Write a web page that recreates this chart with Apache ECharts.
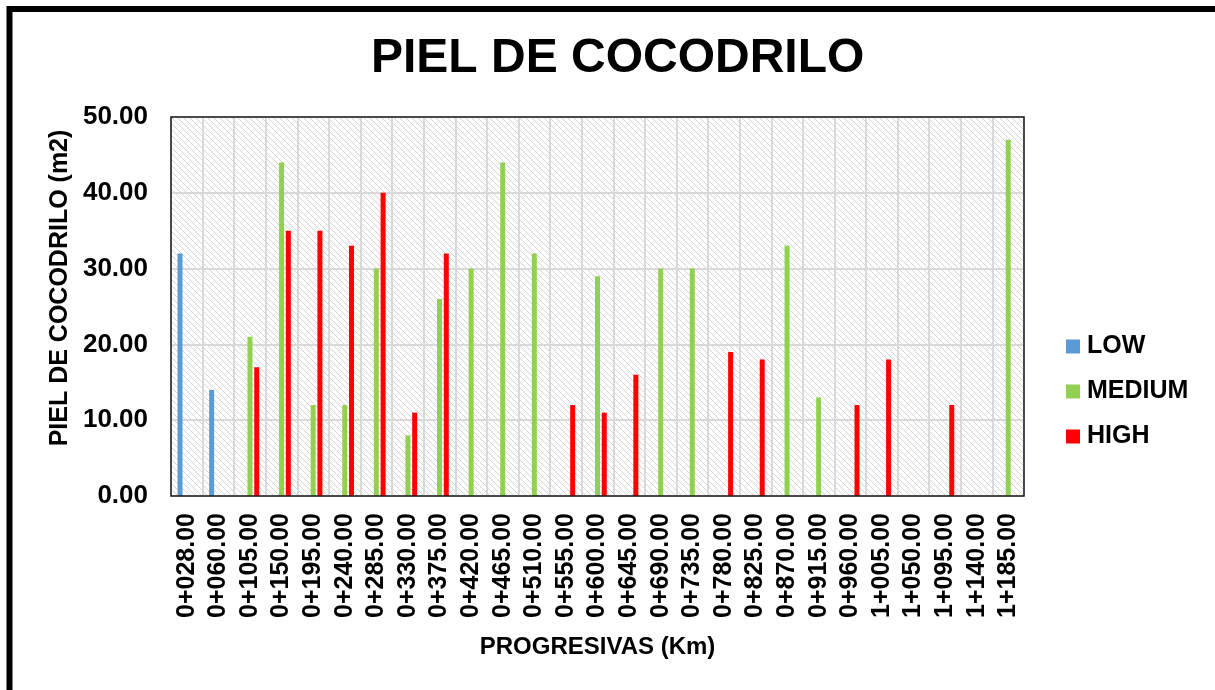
<!DOCTYPE html>
<html>
<head>
<meta charset="utf-8">
<title>PIEL DE COCODRILO</title>
<script src="https://cdn.jsdelivr.net/npm/echarts@6/dist/echarts.min.js"></script>
<style>
    html, body { margin: 0; padding: 0; background: #fff; }
    #main { width: 1215px; height: 690px; }
</style>
</head>
<body>
<div id="main"></div>
<script>
// progresivas (categorias del eje x)
var progresivas = ['0+028.00', '0+060.00', '0+105.00', '0+150.00', '0+195.00', '0+240.00', '0+285.00',
    '0+330.00', '0+375.00', '0+420.00', '0+465.00', '0+510.00', '0+555.00', '0+600.00', '0+645.00',
    '0+690.00', '0+735.00', '0+780.00', '0+825.00', '0+870.00', '0+915.00', '0+960.00', '1+005.00',
    '1+050.00', '1+095.00', '1+140.00', '1+185.00'];
// severidad (m2)
var low = [32, 14, null, null, null, null, null, null, null, null, null, null, null, null, null,
    null, null, null, null, null, null, null, null, null, null, null, null];
var medium = [null, null, 21, 44, 12, 12, 30, 8, 26, 30, 44, 32, null, 29, null,
    30, 30, null, null, 33, 13, null, null, null, null, null, 47];
var high = [null, null, 17, 35, 35, 33, 40, 11, 32, null, null, null, 12, 11, 16,
    null, null, 19, 18, null, null, 12, 18, null, 12, null, null];
var yTicks = [0, 10, 20, 30, 40, 50];

(function () {
    var fuente = '"Liberation Sans", Arial, sans-serif';
    //area de trazado (px)
    var g = { left: 171, top: 117, right: 191, bottom: 194 };
    //fondo rayado del area de trazado
    var cv = document.createElement('canvas');
    cv.width = 6;
    cv.height = 6;
    var ctx = cv.getContext('2d');
    ctx.fillStyle = '#ffffff';
    ctx.fillRect(0, 0, 6, 6);
    ctx.strokeStyle = '#d4d4d4';
    ctx.lineWidth = 1;
    ctx.beginPath();
    ctx.moveTo(-1, -1); ctx.lineTo(7, 7);
    ctx.moveTo(-1, 5); ctx.lineTo(1, 7);
    ctx.moveTo(5, -1); ctx.lineTo(7, 1);
    ctx.stroke();

    var myChart = echarts.init(document.getElementById('main'));
    var serie = function (nombre, datos, color) {
        return {
            name: nombre,
            type: 'bar',
            data: datos,
            barWidth: 5,
            barGap: '35%',
            itemStyle: { color: color }
        };
    };
    var option = {
        animation: false,
        backgroundColor: '#ffffff',
        title: {
            text: 'PIEL DE COCODRILO',
            left: 371,
            top: 35,
            padding: 0,
            textStyle: { fontFamily: fuente, fontSize: 48, fontWeight: 'bold', color: '#000' }
        },
        legend: {
            orient: 'vertical',
            left: 1066,
            top: 334,
            padding: 0,
            itemWidth: 14,
            itemHeight: 14,
            itemGap: 20,
            icon: 'rect',
            textStyle: { fontFamily: fuente, fontSize: 25, fontWeight: 'bold', color: '#000', padding: [0, 0, 0, 2] },
            data: ['LOW', 'MEDIUM', 'HIGH']
        },
        grid: {
            left: g.left,
            top: g.top,
            right: g.right,
            bottom: g.bottom,
            show: true,
            backgroundColor: { image: cv, repeat: 'repeat' },
            borderWidth: 0
        },
        xAxis: {
            type: 'category',
            data: progresivas,
            name: 'PROGRESIVAS (Km)',
            nameLocation: 'middle',
            nameGap: 139,
            nameTextStyle: { fontFamily: fuente, fontSize: 24, fontWeight: 'bold', color: '#000' },
            axisLine: { show: false },
            axisTick: { show: false },
            axisLabel: {
                interval: 0,
                rotate: 90,
                margin: 17,
                fontFamily: fuente,
                fontSize: 25,
                fontWeight: 'bold',
                color: '#000'
            },
            splitLine: { show: true, interval: 0, lineStyle: { color: '#d9d9d9', width: 2 } }
        },
        yAxis: {
            type: 'value',
            min: yTicks[0],
            max: yTicks[yTicks.length - 1],
            interval: yTicks[1] - yTicks[0],
            axisLine: { show: false },
            axisTick: { show: false },
            axisLabel: {
                margin: 23,
                fontFamily: fuente,
                fontSize: 26,
                fontWeight: 'bold',
                color: '#000',
                formatter: function (v) { return v.toFixed(2); }
            },
            splitLine: { lineStyle: { color: '#d9d9d9', width: 2 } }
        },
        graphic: [{
            //marco exterior
            type: 'rect',
            shape: { x: 9.5, y: 9, width: 1300, height: 800 },
            style: { fill: 'none', stroke: '#000', lineWidth: 6 },
            silent: true
        }, {
            //borde del area de trazado
            type: 'rect',
            z: 100,
            shape: { x: g.left, y: g.top, width: 1215 - g.left - g.right, height: 690 - g.top - g.bottom },
            style: { fill: 'none', stroke: '#1a1a1a', lineWidth: 1.5 },
            silent: true
        }, {
            //titulo del eje y
            type: 'text',
            x: 60,
            y: 288,
            rotation: Math.PI / 2,
            style: {
                text: 'PIEL DE COCODRILO (m2)',
                font: 'bold 25px "Liberation Sans", Arial, sans-serif',
                fill: '#000',
                textAlign: 'center',
                textVerticalAlign: 'middle'
            },
            silent: true
        }],
        series: [
            serie('LOW', low, '#5b9bd5'),
            serie('MEDIUM', medium, '#92d050'),
            serie('HIGH', high, '#ff0000')
        ]
    };
    myChart.setOption(option);
    window.addEventListener('resize', function () {
        myChart.resize();
    });
})();
</script>
</body>
</html>
